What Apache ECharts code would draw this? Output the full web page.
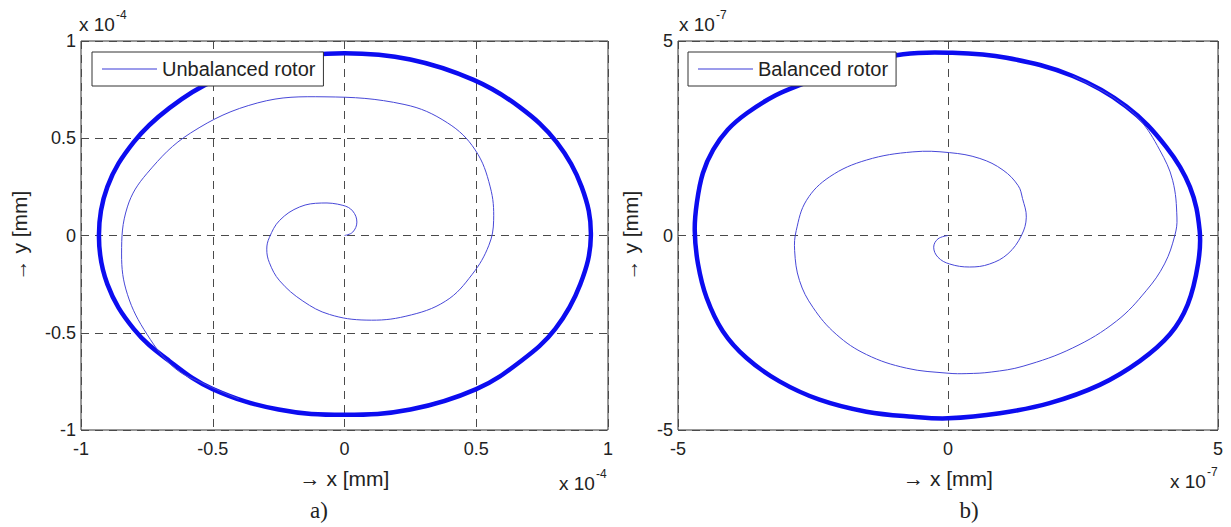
<!DOCTYPE html>
<html lang="en">
<head>
    <meta charset="UTF-8">
    <title>Rotor orbit - unbalanced / balanced</title>
    <script src="https://cdn.jsdelivr.net/npm/echarts@6/dist/echarts.min.js"></script>
    <style>
        html, body { margin: 0; padding: 0; background: #fff; }
        #main { width: 1231px; height: 527px; }
    </style>
</head>
<body>
<div id="main"></div>
<script>
    // a) unbalanced rotor, values in units of 1e-4 mm
    var nameA = 'Unbalanced rotor'
    var expA = '-4'
    var ticksA = [-1, -0.5, 0, 0.5, 1]
    var transientA = [
        [0, 0], [0.031, 0.017], [0.047, 0.069], [0.031, 0.126], [-0.006, 0.155], [-0.088, 0.167],
        [-0.170, 0.147], [-0.246, 0.078], [-0.285, -0.01], [-0.295, -0.07], [-0.285, -0.14],
        [-0.246, -0.233], [-0.158, -0.337], [-0.057, -0.406], [0.082, -0.435], [0.233, -0.415],
        [0.384, -0.337], [0.485, -0.199], [0.548, -0.05], [0.566, 0.078], [0.553, 0.25], [0.496, 0.44],
        [0.391, 0.579], [0.226, 0.674], [-0.074, 0.713], [-0.329, 0.682], [-0.584, 0.527],
        [-0.749, 0.320], [-0.824, 0.147], [-0.846, -0.095], [-0.824, -0.302], [-0.749, -0.509],
        [-0.644, -0.682], [-0.524, -0.768], [-0.40, -0.84]
    ]
    // steady-state orbit (closed loop)
    var orbitA = [
        [-0.5, -0.79], [-0.25, -0.895], [0, -0.922], [0.25, -0.895], [0.5, -0.79], [0.67, -0.645],
        [0.8, -0.48], [0.895, -0.25], [0.935, 0], [0.9, 0.25], [0.805, 0.48], [0.665, 0.66], [0.49, 0.80],
        [0.25, 0.905], [0, 0.937], [-0.25, 0.905], [-0.49, 0.80], [-0.665, 0.655], [-0.8, 0.48],
        [-0.9, 0.25], [-0.932, 0], [-0.9, -0.25], [-0.8, -0.48], [-0.665, -0.645]
    ]

    // b) balanced rotor, values in units of 1e-7 mm
    var nameB = 'Balanced rotor'
    var expB = '-7'
    var ticksB = [-5, 0, 5]
    var transientB = [
        [0, 0], [-0.185, -0.086], [-0.265, -0.30], [-0.185, -0.56], [0.031, -0.733], [0.40, -0.81],
        [0.77, -0.733], [1.11, -0.47], [1.36, 0.0], [1.45, 0.47], [1.38, 0.95], [1.30, 1.28],
        [1.02, 1.68], [0.59, 1.98], [0.03, 2.13], [-0.65, 2.15], [-1.51, 1.94], [-2.19, 1.51],
        [-2.62, 0.905], [-2.81, 0.13], [-2.84, -0.39], [-2.75, -1.16], [-2.50, -1.85], [-2.07, -2.54],
        [-1.51, -3.06], [-0.77, -3.41], [0, -3.54], [0.35, -3.55], [0.8, -3.51], [1.39, -3.36],
        [2.31, -2.89], [3.12, -2.20], [3.67, -1.42], [4.01, -0.73], [4.20, 0], [4.24, 0.45],
        [4.16, 1.42], [3.92, 2.20], [3.55, 2.98], [3.12, 3.49], [2.81, 3.75], [2.31, 4.10]
    ]
    var orbitB = [
        [2.31, 4.10], [1.08, 4.57], [0, 4.70], [-0.83, 4.66], [-1.8, 4.38], [-2.69, 3.90],
        [-3.2, 3.6], [-3.72, 3.15], [-4.08, 2.72], [-4.35, 2.20], [-4.54, 1.60], [-4.65, 0.85],
        [-4.69, 0.13], [-4.63, -0.73], [-4.47, -1.60], [-4.17, -2.46], [-3.73, -3.15], [-3.12, -3.75],
        [-2.38, -4.22], [-1.51, -4.53], [-0.65, -4.66], [0, -4.70], [0.96, -4.57], [1.88, -4.31],
        [2.81, -3.84], [3.55, -3.23], [4.11, -2.54], [4.44, -1.77], [4.63, -0.73], [4.66, 0.13],
        [4.48, 1.25], [4.04, 2.28], [3.30, 3.32]
    ]

    var captions = ['a)', 'b)']
    var xTitle = '\u2192 x [mm]'
    var yTitle = '\u2192 y [mm]'

    var textColor = '#222'
    var sansFont = '"Liberation Sans", Arial, sans-serif'
    var thinColor = '#4848d8'
    var bandColor = '#0c0cf0'

    function makeAxis(ticks, idx, isX) {
        return {
            type: 'value',
            gridIndex: idx,
            min: ticks[0],
            max: ticks[ticks.length - 1],
            interval: ticks[1] - ticks[0],
            name: isX ? xTitle : yTitle,
            nameLocation: 'middle',
            nameGap: isX ? 38 : (idx == 0 ? 51 : 37),
            nameRotate: isX ? 0 : 90,
            nameTextStyle: { color: textColor, fontSize: 21, fontFamily: sansFont },
            axisLine: { show: false },
            axisTick: { show: false },
            axisLabel: { color: textColor, fontSize: 18, fontFamily: sansFont, margin: isX ? 10 : 5 },
            splitLine: { show: true, lineStyle: { color: '#4a4a4a', width: 1, type: [8, 6] } }
        }
    }

    // the whole curve is drawn once (on the first item), every point mapped through the axes
    function makeCurve(name, pts, idx, closed) {
        var color = closed ? bandColor : thinColor
        return {
            name: name,
            type: 'custom',
            xAxisIndex: idx,
            yAxisIndex: idx,
            data: pts,
            encode: { x: 0, y: 1 },
            clip: true,
            itemStyle: { color: color },
            z: closed ? 2 : 3,
            renderItem: function (params, api) {
                if (params.dataIndex !== 0) return null
                var points = pts.map(function (p) { return api.coord(p) })
                return {
                    type: closed ? 'polygon' : 'polyline',
                    shape: { points: points, smooth: 0.38 },
                    style: { stroke: color, fill: null, lineWidth: closed ? 4.5 : 1 },
                    silent: true
                }
            }
        }
    }

    function makeLegend(name, left) {
        return {
            data: [name],
            left: left,
            top: 52,
            orient: 'horizontal',
            selectedMode: false,
            backgroundColor: '#fff',
            borderColor: '#333',
            borderWidth: 1,
            borderRadius: 0,
            padding: [7, 8, 7, 10],
            icon: 'rect',
            itemWidth: 55,
            itemHeight: 1,
            itemStyle: { color: '#3a3ad8' },
            textStyle: { color: textColor, fontSize: 20, fontFamily: sansFont }
        }
    }

    function expLabel(left, top, exp) {
        return [
            { type: 'text', left: left, top: top, style: { text: 'x 10', fill: textColor, font: '19px ' + sansFont } },
            { type: 'text', left: left + 37, top: top - 6, style: { text: exp, fill: textColor, font: '12px ' + sansFont } }
        ]
    }

    var chart = echarts.init(document.getElementById('main'), null, { renderer: 'svg' })
    chart.setOption({
        backgroundColor: '#fff',
        animation: false,
        grid: [
            { left: 81, top: 41, width: 527, height: 389, show: true, borderColor: '#333', borderWidth: 1, backgroundColor: 'transparent' },
            { left: 678, top: 41, width: 540, height: 389, show: true, borderColor: '#333', borderWidth: 1, backgroundColor: 'transparent' }
        ],
        xAxis: [makeAxis(ticksA, 0, true), makeAxis(ticksB, 1, true)],
        yAxis: [makeAxis(ticksA, 0, false), makeAxis(ticksB, 1, false)],
        legend: [makeLegend(nameA, 92), makeLegend(nameB, 688)],
        series: [
            makeCurve(nameA, transientA, 0, false),
            makeCurve(nameA, orbitA, 0, true),
            makeCurve(nameB, transientB, 1, false),
            makeCurve(nameB, orbitB, 1, true)
        ],
        graphic: [].concat(
            expLabel(79, 15, expA),
            expLabel(559, 474, expA),
            expLabel(679, 15, expB),
            expLabel(1170, 472, expB),
            [
                { type: 'text', x: 319, y: 510, style: { text: captions[0], align: 'center', verticalAlign: 'middle', fill: textColor, font: '23px "Liberation Serif", serif' } },
                { type: 'text', x: 969, y: 510, style: { text: captions[1], align: 'center', verticalAlign: 'middle', fill: textColor, font: '23px "Liberation Serif", serif' } }
            ]
        )
    })
</script>
</body>
</html>
